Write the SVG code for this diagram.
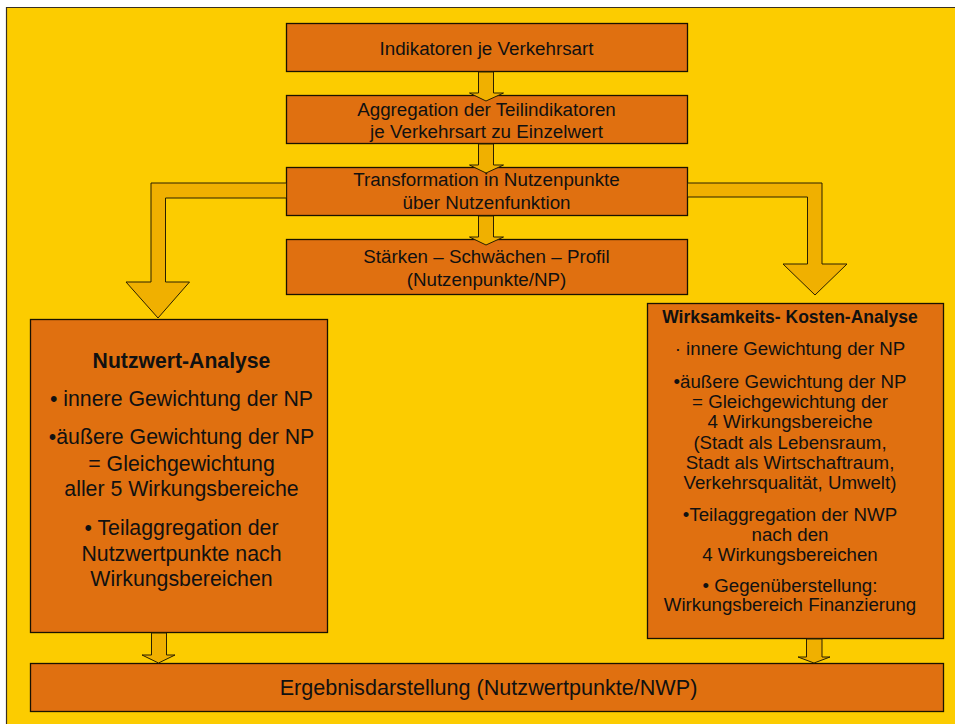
<svg xmlns="http://www.w3.org/2000/svg" width="955" height="724" viewBox="0 0 955 724">
<style>
.box{fill:#E07010;stroke:#1a1200;stroke-width:1.3}
.arr{fill:#F0B000;stroke:#2a2000;stroke-width:1}
text{font-family:"Liberation Sans",Arial,sans-serif;fill:#111;text-anchor:middle}
.t18{font-size:18.8px}
.t21{font-size:21.6px}
.nw{font-size:21.3px}
.nwt{font-size:21.2px;font-weight:bold}
.wk{font-size:18.7px}
.wkt{font-size:17.5px;font-weight:bold}
</style>
<rect x="0" y="0" width="955" height="724" fill="#ffffff"/>
<rect x="6" y="7" width="949" height="717" fill="#FCCC00"/>
<path d="M6.5 724 V7.5 H955" fill="none" stroke="#3a3020" stroke-width="1.2"/>

<g id="n1"><rect class="box" x="286.5" y="23.5" width="401" height="48"/>
<text class="t18" x="486.5" y="55">Indikatoren je Verkehrsart</text></g>
<g id="n2"><rect class="box" x="286.5" y="95.5" width="401" height="48"/>
<text class="t18" x="486.5" y="116">Aggregation der Teilindikatoren</text>
<text class="t18" x="486.5" y="138">je Verkehrsart zu Einzelwert</text></g>
<g id="n3"><rect class="box" x="286.5" y="167.5" width="401" height="48"/>
<text class="t18" x="486.5" y="186">Transformation in Nutzenpunkte</text>
<text class="t18" x="486.5" y="209">über Nutzenfunktion</text></g>
<g id="n4"><rect class="box" x="286.5" y="239.5" width="401" height="55"/>
<text class="t18" x="486.5" y="263">Stärken – Schwächen – Profil</text>
<text class="t18" x="486.5" y="286">(Nutzenpunkte/NP)</text></g>

<g id="n5"><rect class="box" x="30.5" y="319.5" width="297" height="313"/>
<text class="nwt" x="181.5" y="368">Nutzwert-Analyse</text>
<text class="nw" x="181.5" y="406">• innere Gewichtung der NP</text>
<text class="nw" x="181.5" y="444">•äußere Gewichtung der NP</text>
<text class="nw" x="181.5" y="471">= Gleichgewichtung</text>
<text class="nw" x="181.5" y="496">aller 5 Wirkungsbereiche</text>
<text class="nw" x="181.5" y="535">• Teilaggregation der</text>
<text class="nw" x="181.5" y="561">Nutzwertpunkte nach</text>
<text class="nw" x="181.5" y="586">Wirkungsbereichen</text></g>

<g id="n6"><rect class="box" x="647.5" y="303.5" width="296" height="335"/>
<text class="wkt" x="790" y="323">Wirksamkeits- Kosten-Analyse</text>
<text class="wk" x="790" y="355">· innere Gewichtung der NP</text>
<text class="wk" x="790" y="388">•äußere Gewichtung der NP</text>
<text class="wk" x="790" y="408">= Gleichgewichtung der</text>
<text class="wk" x="790" y="428">4 Wirkungsbereiche</text>
<text class="wk" x="790" y="449">(Stadt als Lebensraum,</text>
<text class="wk" x="790" y="469">Stadt als Wirtschaftraum,</text>
<text class="wk" x="790" y="489">Verkehrsqualität, Umwelt)</text>
<text class="wk" x="790" y="521">•Teilaggregation der NWP</text>
<text class="wk" x="790" y="541">nach den</text>
<text class="wk" x="790" y="561">4 Wirkungsbereichen</text>
<text class="wk" x="790" y="592">• Gegenüberstellung:</text>
<text class="wk" x="790" y="611">Wirkungsbereich Finanzierung</text></g>

<g id="n7"><rect class="box" x="30.5" y="663.5" width="913" height="48"/>
<text class="t21" x="488.5" y="695">Ergebnisdarstellung (Nutzwertpunkte/NWP)</text></g>

<g id="connectors">
<polygon class="arr" points="478.5,72 493.5,72 493.5,93 503.5,93 486,101 469.5,93 478.5,93"/>
<polygon class="arr" points="478.5,144 493.5,144 493.5,165 503.5,165 486,173 469.5,165 478.5,165"/>
<polygon class="arr" points="478.5,216 493.5,216 493.5,237 503.5,237 486,245 469.5,237 478.5,237"/>
<polygon class="arr" points="286.5,183 151,183 151,282 126,282 158,318 189.5,282 165.5,282 165.5,198 286.5,198"/>
<polygon class="arr" points="687.5,183 822,183 822,264 847,264 815,295 783,264 807.5,264 807.5,197 687.5,197"/>
<polygon class="arr" points="151.5,633 166.5,633 166.5,655 175,655 158.5,663 142,655 151.5,655"/>
<polygon class="arr" points="806.5,639 822,639 822,657 830,657 814,663 798,657 806.5,657"/>
</g>
</svg>
